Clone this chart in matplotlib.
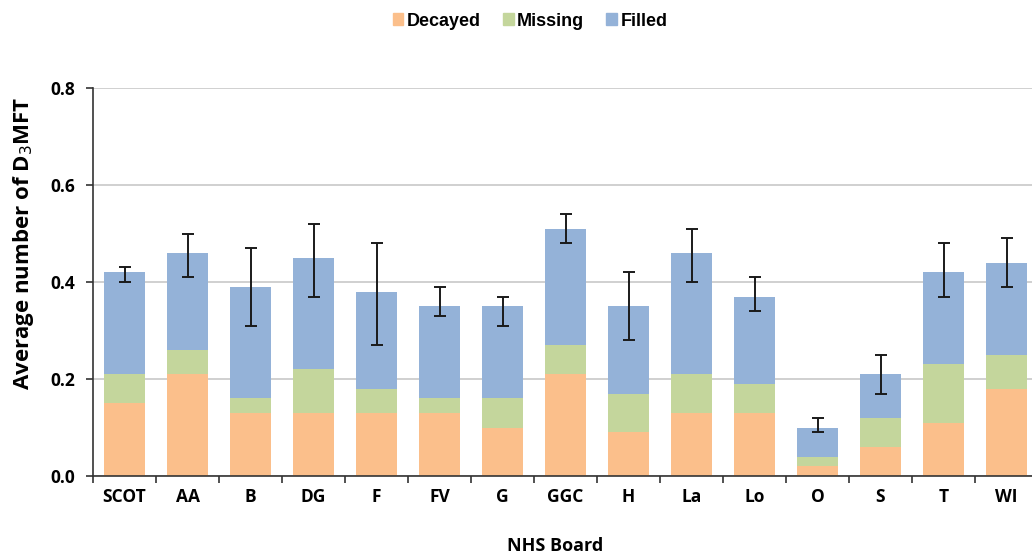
import numpy as np
import matplotlib.pyplot as plt
from matplotlib.patches import Patch

boards = ['SCOT', 'AA', 'B', 'DG', 'F', 'FV', 'G', 'GGC', 'H', 'La', 'Lo', 'O', 'S', 'T', 'WI']
decayed = [0.15, 0.21, 0.13, 0.13, 0.13, 0.13, 0.10, 0.21, 0.09, 0.13, 0.13, 0.02, 0.06, 0.11, 0.18]
missing = [0.06, 0.05, 0.03, 0.09, 0.05, 0.03, 0.06, 0.06, 0.08, 0.08, 0.06, 0.02, 0.06, 0.12, 0.07]
filled = [0.21, 0.20, 0.23, 0.23, 0.20, 0.19, 0.19, 0.24, 0.18, 0.25, 0.18, 0.06, 0.09, 0.19, 0.19]
ci_low = [0.40, 0.41, 0.31, 0.37, 0.27, 0.33, 0.31, 0.48, 0.28, 0.40, 0.34, 0.09, 0.17, 0.37, 0.39]
ci_high = [0.43, 0.50, 0.47, 0.52, 0.48, 0.39, 0.37, 0.54, 0.42, 0.51, 0.41, 0.12, 0.25, 0.48, 0.49]

c_dec = '#FBBF8B'
c_mis = '#C4D69C'
c_fil = '#94B2D8'
font = 'Open Sans'

fig = plt.figure(figsize=(10.32, 5.56), dpi=100)
ax = fig.add_axes([93 / 1032, (556 - 476) / 556, 945 / 1032, 388 / 556])

x = np.arange(len(boards))
d = np.array(decayed)
m = np.array(missing)
f = np.array(filled)

ax.bar(x, d, width=0.66, color=c_dec, zorder=2)
ax.bar(x, m, width=0.66, bottom=d, color=c_mis, zorder=2)
ax.bar(x, f, width=0.66, bottom=d + m, color=c_fil, zorder=2)

lo = np.array(ci_low)
hi = np.array(ci_high)
ax.errorbar(x, (lo + hi) / 2, yerr=(hi - lo) / 2, fmt='none', ecolor='#1a1a1a',
            elinewidth=1.4, capsize=4, capthick=1.4, zorder=3)

ax.set_xlim(-0.5, len(boards) - 0.5)
ax.set_ylim(0, 0.8)
ax.set_yticks([0.0, 0.2, 0.4, 0.6, 0.8])
ax.set_yticklabels(['0.0', '0.2', '0.4', '0.6', '0.8'])
ax.yaxis.grid(True, color='#c8c8c8', linewidth=1.2, zorder=0)
ax.set_axisbelow(True)

ax.set_xticks(x)
ax.set_xticklabels(boards)
ax.set_xticks(np.arange(-0.5, len(boards) + 0.5, 1), minor=True)
ax.tick_params(axis='x', which='major', length=0, pad=9)
ax.tick_params(axis='x', which='minor', length=5, direction='out', color='#333333', width=1.2)
ax.tick_params(axis='y', length=5, direction='out', color='#333333', width=1.2, pad=8)

for lab in ax.get_xticklabels() + ax.get_yticklabels():
    lab.set_fontfamily(font)
    lab.set_fontweight('bold')
    lab.set_fontsize(12.5)

for s in ['top', 'right']:
    ax.spines[s].set_visible(False)
ax.spines['left'].set_color('#333333')
ax.spines['bottom'].set_color('#333333')
ax.spines['left'].set_linewidth(1.2)
ax.spines['bottom'].set_linewidth(1.2)

# y label sits above the axes centre in the original
fig.text(24 / 1032, 1 - 243 / 556, 'Average number of D$_3$MFT', rotation=90,
         ha='center', va='center', fontfamily=font, fontweight='bold', fontsize=16)
fig.text(555 / 1032, 1 - 546 / 556, 'NHS Board', ha='center', va='center',
         fontfamily=font, fontweight='bold', fontsize=13)

handles = [Patch(color=c_dec, label='Decayed'), Patch(color=c_mis, label='Missing'),
           Patch(color=c_fil, label='Filled')]
fig.legend(handles=handles, loc='center', bbox_to_anchor=(530 / 1032, 1 - 21 / 556),
           ncol=3, frameon=False, handlelength=0.6, handleheight=0.6, handletextpad=0.2,
           columnspacing=1.2, prop={'family': 'Liberation Sans', 'weight': 'bold', 'size': 13})

fig.savefig('out.png', dpi=100)
